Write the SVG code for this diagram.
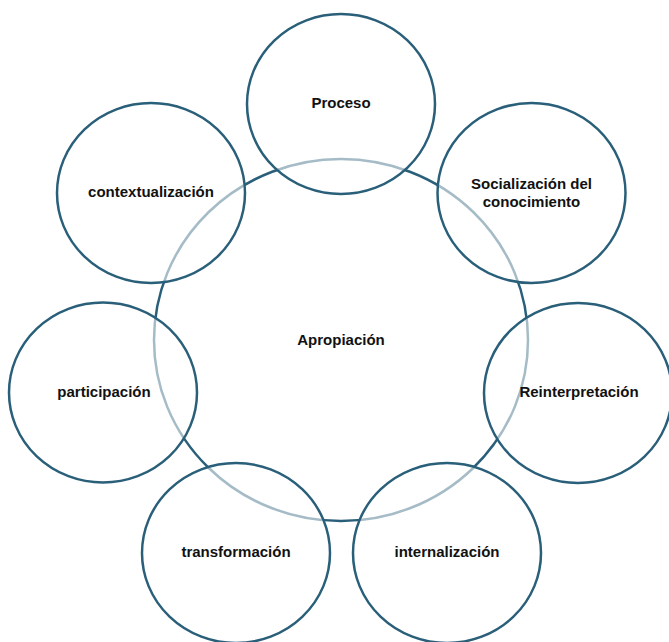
<svg xmlns="http://www.w3.org/2000/svg" width="669" height="642" viewBox="0 0 669 642">
<style>
.c{fill:#ffffff;fill-opacity:0.58;stroke:#2a5f7a;stroke-width:2.5}
.m{fill:#ffffff;stroke:#2a5f7a;stroke-width:2.5}
.t{font-family:"Liberation Sans",Arial,sans-serif;font-weight:bold;font-size:15px;fill:#111111;text-anchor:middle}
</style>
<rect width="669" height="642" fill="#ffffff"/>
<g id="connectors"></g>
<g id="apropiacion">
<ellipse class="m" cx="341" cy="340" rx="187" ry="181"/>
<text class="t" x="341" y="345">Apropiación</text>
</g>
<g id="proceso">
<ellipse class="c" cx="341" cy="104" rx="94" ry="90"/>
<text class="t" x="341" y="108">Proceso</text>
</g>
<g id="socializacion">
<ellipse class="c" cx="531.5" cy="193" rx="94" ry="90"/>
<text class="t" x="531.5" y="189">Socialización del</text>
<text class="t" x="531.5" y="207">conocimiento</text>
</g>
<g id="reinterpretacion">
<ellipse class="c" cx="578" cy="393" rx="94" ry="90"/>
<text class="t" x="579" y="397">Reinterpretación</text>
</g>
<g id="internalizacion">
<ellipse class="c" cx="447" cy="553" rx="94" ry="90"/>
<text class="t" x="447" y="557">internalización</text>
</g>
<g id="transformacion">
<ellipse class="c" cx="236" cy="553" rx="94" ry="90"/>
<text class="t" x="236" y="557">transformación</text>
</g>
<g id="participacion">
<ellipse class="c" cx="103" cy="392.5" rx="94" ry="90"/>
<text class="t" x="104" y="397">participación</text>
</g>
<g id="contextualizacion">
<ellipse class="c" cx="151" cy="193" rx="94" ry="90"/>
<text class="t" x="151" y="197">contextualización</text>
</g>
</svg>
